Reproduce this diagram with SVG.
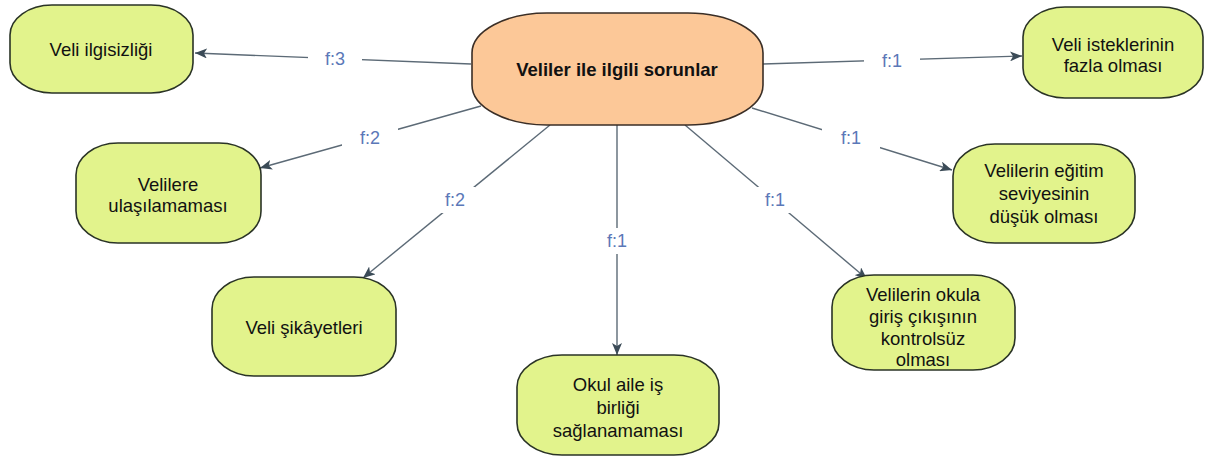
<svg xmlns="http://www.w3.org/2000/svg" width="1212" height="457" viewBox="0 0 1212 457">
  <style>
    .node { fill: #e2f38c; stroke: #2a3326; stroke-width: 1.6; }
    .hub { fill: #fcc898; stroke: #3a2e26; stroke-width: 1.6; }
    .txt { font-family: "Liberation Sans", Arial, sans-serif; font-size: 18.5px; fill: #111; text-anchor: middle; }
    .hubtxt { font-family: "Liberation Sans", Arial, sans-serif; font-size: 18.5px; font-weight: bold; fill: #111; text-anchor: middle; }
    .edge { stroke: #5c6a76; stroke-width: 1.4; fill: none; marker-end: url(#arrow); }
    .lbl { font-family: "Liberation Sans", Arial, sans-serif; font-size: 18px; fill: #5b78b8; text-anchor: middle; }
    .lblbg { fill: #ffffff; }
  </style>
  <defs>
    <marker id="arrow" viewBox="0 0 12 10" refX="12" refY="5" markerWidth="12" markerHeight="10" markerUnits="userSpaceOnUse" orient="auto">
      <path d="M0,0 L12,5 L0,10 L3,5 Z" fill="#3b4b57"/>
    </marker>
  </defs>
  <rect width="1212" height="457" fill="#ffffff"/>

  <g id="connectors">
    <line class="edge" x1="471" y1="64" x2="195" y2="53"/>
    <line class="edge" x1="763" y1="64" x2="1022" y2="56"/>
    <line class="edge" x1="481" y1="106" x2="260" y2="168"/>
    <line class="edge" x1="550" y1="125" x2="363" y2="278"/>
    <line class="edge" x1="617" y1="125" x2="617" y2="355"/>
    <line class="edge" x1="685" y1="125" x2="867" y2="279"/>
    <line class="edge" x1="752" y1="108" x2="952" y2="170"/>

    <rect class="lblbg" x="308" y="46" width="54" height="26"/>
    <text class="lbl" x="335" y="65">f:3</text>
    <rect class="lblbg" x="864" y="48" width="56" height="26"/>
    <text class="lbl" x="892" y="67">f:1</text>
    <rect class="lblbg" x="342" y="125" width="56" height="26"/>
    <text class="lbl" x="370" y="144">f:2</text>
    <rect class="lblbg" x="435" y="187" width="40" height="26"/>
    <text class="lbl" x="455" y="206">f:2</text>
    <rect class="lblbg" x="601" y="228" width="32" height="26"/>
    <text class="lbl" x="617" y="247">f:1</text>
    <rect class="lblbg" x="755" y="187" width="40" height="26"/>
    <text class="lbl" x="775" y="206">f:1</text>
    <rect class="lblbg" x="822" y="125" width="58" height="26"/>
    <text class="lbl" x="851" y="144">f:1</text>
  </g>

  <g id="n-center">
    <rect class="hub" x="472" y="13" width="291" height="112" rx="75" ry="40"/>
    <text class="hubtxt" x="617" y="76">Veliler ile ilgili sorunlar</text>
  </g>

  <g id="n-ilgisizlik">
    <rect class="node" x="10" y="5" width="183" height="88" rx="42" ry="30"/>
    <text class="txt" x="101" y="56">Veli ilgisizliği</text>
  </g>

  <g id="n-istekler">
    <rect class="node" x="1023" y="7" width="180" height="91" rx="42" ry="30"/>
    <text class="txt" x="1113" y="51">Veli isteklerinin</text>
    <text class="txt" x="1113" y="72">fazla olması</text>
  </g>

  <g id="n-ulasilamama">
    <rect class="node" x="76" y="143" width="185" height="100" rx="42" ry="32"/>
    <text class="txt" x="168" y="191">Velilere</text>
    <text class="txt" x="168" y="212">ulaşılamaması</text>
  </g>

  <g id="n-egitim">
    <rect class="node" x="953" y="144" width="182" height="99" rx="42" ry="32"/>
    <text class="txt" x="1044" y="177">Velilerin eğitim</text>
    <text class="txt" x="1044" y="200">seviyesinin</text>
    <text class="txt" x="1044" y="223">düşük olması</text>
  </g>

  <g id="n-sikayet">
    <rect class="node" x="212" y="277" width="184" height="99" rx="42" ry="32"/>
    <text class="txt" x="304" y="334">Veli şikâyetleri</text>
  </g>

  <g id="n-isbirligi">
    <rect class="node" x="517" y="355" width="202" height="100" rx="45" ry="32"/>
    <text class="txt" x="618" y="391">Okul aile iş</text>
    <text class="txt" x="618" y="414">birliği</text>
    <text class="txt" x="618" y="437">sağlanamaması</text>
  </g>

  <g id="n-giris">
    <rect class="node" x="832" y="275" width="183" height="95" rx="42" ry="32"/>
    <text class="txt" x="923" y="301">Velilerin okula</text>
    <text class="txt" x="923" y="323">giriş çıkışının</text>
    <text class="txt" x="923" y="345">kontrolsüz</text>
    <text class="txt" x="923" y="366">olması</text>
  </g>
</svg>
